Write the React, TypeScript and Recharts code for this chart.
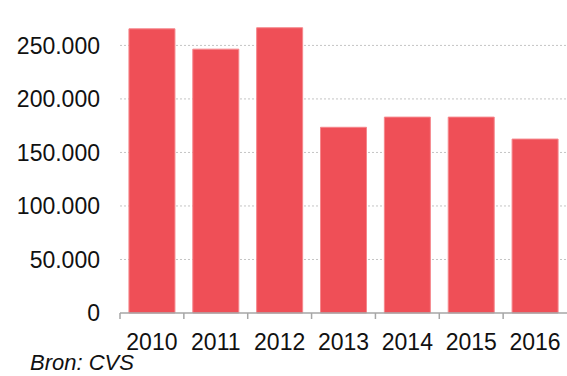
import { BarChart, Bar, XAxis, YAxis, CartesianGrid } from "recharts";

const YEARS = ["2010", "2011", "2012", "2013", "2014", "2015", "2016"];
const VALUES = [265500, 246500, 266500, 173500, 183000, 183000, 162500];
const Y_TICKS = [0, 50000, 100000, 150000, 200000, 250000];

const RED = "#EF4F57";
const AXIS = "#a6a6a6";
const FONT = "'Liberation Sans', Arial, sans-serif";

const data = YEARS.map((year, i) => ({ year, value: VALUES[i] }));

function fmtNum(n: number): string {
  return n.toLocaleString("nl-NL");
}

function YearTick(props: Record<string, unknown>) {
  const x = props.x as number;
  const y = props.y as number;
  const payload = props.payload as { value: string; offset?: number } | undefined;
  if (!payload) return null;
  const edge = x - (payload.offset ?? 0);
  const axisY = y - 6 - 15;
  return (
    <g>
      <line x1={edge} y1={axisY} x2={edge} y2={axisY + 6} stroke={AXIS} strokeWidth={1.5} />
      <text x={x} y={y} dy="0.71em" textAnchor="middle" fontSize={23} fill="#111" fontFamily={FONT}>
        {payload.value}
      </text>
    </g>
  );
}

export default function App() {
  return (
    <div style={{ position: "absolute", left: 0, top: 0, width: 567, height: 376, background: "#fff", fontFamily: FONT }}>
      <BarChart
        width={567}
        height={376}
        data={data}
        margin={{ top: 24, right: 0, left: 0, bottom: 23 }}
        barCategoryGap="14%"
      >
        <CartesianGrid
          vertical={false}
          stroke="#c4c4c4"
          strokeDasharray="2 2"
          horizontalValues={Y_TICKS.filter((t) => t > 0)}
        />
        <XAxis
          dataKey="year"
          height={40}
          axisLine={{ stroke: AXIS, strokeWidth: 1.5 }}
          tickLine={false}
          tickMargin={15}
          interval={0}
          tick={<YearTick />}
        />
        <YAxis
          width={120}
          domain={[0, 270000]}
          ticks={Y_TICKS}
          axisLine={false}
          tickLine={false}
          tickMargin={14}
          tick={{ fontSize: 23, fill: "#111", fontFamily: FONT }}
          tickFormatter={(v: number) => fmtNum(v)}
        />
        <Bar dataKey="value" fill={RED} stroke="#F5878C" strokeWidth={1} isAnimationActive={false} />
      </BarChart>
      <div
        style={{
          position: "absolute",
          left: 30,
          top: 351,
          fontSize: 22,
          fontStyle: "italic",
          color: "#111",
          lineHeight: "24px",
        }}
      >
        Bron: CVS
      </div>
    </div>
  );
}
